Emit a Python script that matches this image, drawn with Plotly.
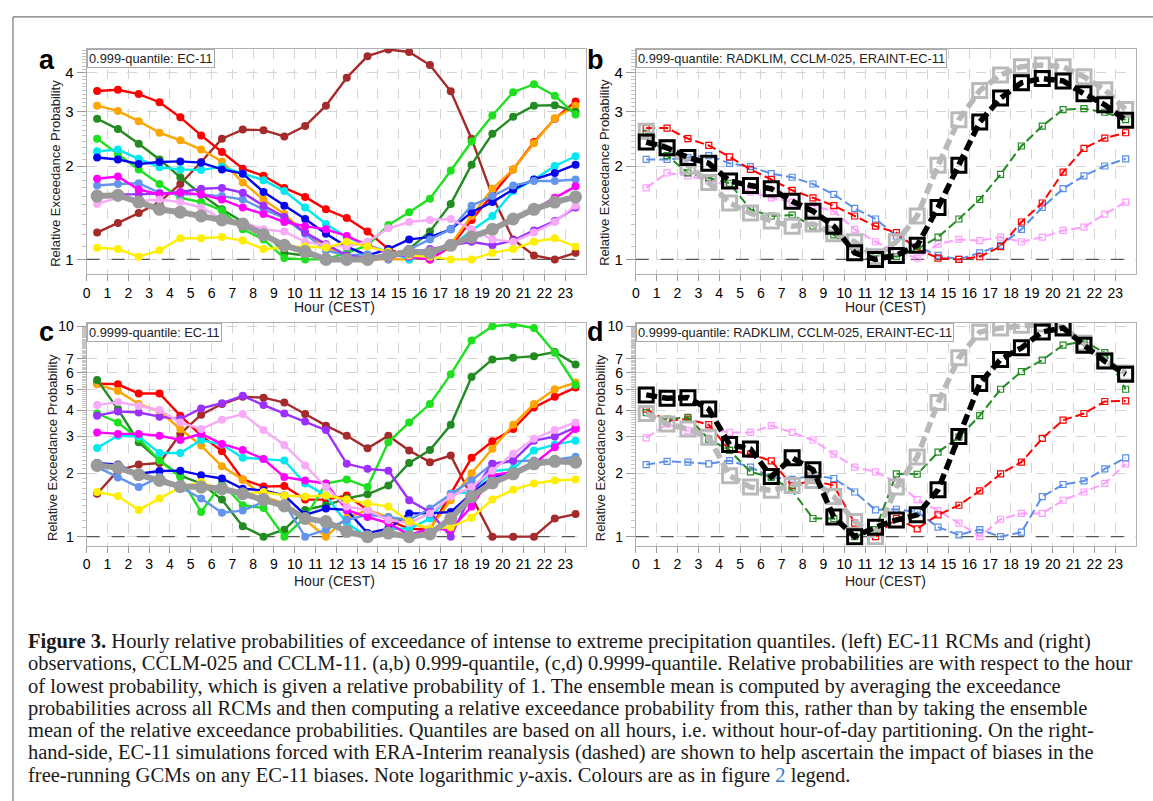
import plotly.graph_objects as go

HOURS = [0.5, 1.5, 2.5, 3.5, 4.5, 5.5, 6.5, 7.5, 8.5, 9.5, 10.5, 11.5,
         12.5, 13.5, 14.5, 15.5, 16.5, 17.5, 18.5, 19.5, 20.5, 21.5, 22.5, 23.5]
HOUR_TICKS = list(range(24))

# ---- panel a : 0.999-quantile, EC-11 RCMs ----
A_RED = [3.49, 3.52, 3.41, 3.21, 2.87, 2.51, 2.22, 1.96, 1.86, 1.70, 1.59, 1.45, 1.36, 1.23, 1.08, 1.02, 1.0, 1.10, 1.34, 1.62, 1.95, 2.39, 2.84, 3.23]
A_ORANGE = [3.13, 3.01, 2.79, 2.56, 2.42, 2.26, 2.07, 1.77, 1.56, 1.40, 1.22, 1.10, 1.03, 1.0, 1.0, 1.0, 1.02, 1.12, 1.38, 1.69, 1.95, 2.37, 2.85, 3.13]
A_DKGREEN = [2.84, 2.63, 2.36, 2.10, 1.84, 1.62, 1.45, 1.32, 1.24, 1.05, 1.03, 1.02, 1.0, 1.0, 1.03, 1.08, 1.23, 1.51, 2.02, 2.54, 2.88, 3.13, 3.14, 2.99]
A_GREEN = [2.45, 2.18, 1.95, 1.75, 1.58, 1.53, 1.44, 1.25, 1.16, 1.01, 1.0, 1.0, 1.05, 1.11, 1.29, 1.42, 1.57, 1.93, 2.40, 2.91, 3.46, 3.67, 3.37, 2.93]
A_CYAN = [2.23, 2.26, 2.11, 1.98, 1.95, 1.94, 1.99, 1.89, 1.80, 1.66, 1.47, 1.30, 1.18, 1.11, 1.06, 1.0, 1.03, 1.10, 1.24, 1.38, 1.66, 1.81, 2.0, 2.15]
A_BLUE = [2.13, 2.10, 2.03, 2.06, 2.07, 2.05, 1.95, 1.89, 1.65, 1.49, 1.35, 1.21, 1.10, 1.03, 1.08, 1.16, 1.18, 1.25, 1.42, 1.53, 1.68, 1.81, 1.90, 2.02]
A_CORNFLOWER = [1.73, 1.75, 1.76, 1.64, 1.62, 1.62, 1.60, 1.56, 1.45, 1.36, 1.21, 1.07, 1.03, 1.04, 1.0, 1.08, 1.16, 1.25, 1.49, 1.60, 1.73, 1.79, 1.79, 1.81]
A_MAGENTA = [1.82, 1.85, 1.68, 1.62, 1.64, 1.62, 1.56, 1.47, 1.40, 1.32, 1.28, 1.25, 1.19, 1.11, 1.05, 1.02, 1.0, 1.11, 1.16, 1.25, 1.33, 1.45, 1.58, 1.72]
A_PURPLE = [1.62, 1.62, 1.62, 1.63, 1.65, 1.69, 1.70, 1.64, 1.49, 1.37, 1.22, 1.12, 1.03, 1.01, 1.01, 1.05, 1.08, 1.11, 1.14, 1.11, 1.15, 1.24, 1.33, 1.47]
A_PINK = [1.51, 1.58, 1.54, 1.56, 1.53, 1.47, 1.35, 1.32, 1.25, 1.23, 1.14, 1.11, 1.10, 1.14, 1.26, 1.32, 1.34, 1.35, 1.25, 1.16, 1.14, 1.22, 1.32, 1.49]
A_BROWN = [1.22, 1.31, 1.41, 1.53, 1.75, 2.06, 2.45, 2.62, 2.61, 2.49, 2.69, 3.13, 3.85, 4.52, 4.75, 4.66, 4.23, 3.48, 2.45, 1.60, 1.16, 1.03, 1.0, 1.05]
A_YELLOW = [1.09, 1.08, 1.02, 1.07, 1.17, 1.17, 1.18, 1.15, 1.08, 1.09, 1.10, 1.09, 1.14, 1.10, 1.06, 1.03, 1.02, 1.0, 1.0, 1.05, 1.08, 1.14, 1.17, 1.10]
A_MEAN = [1.60, 1.61, 1.53, 1.45, 1.42, 1.38, 1.34, 1.30, 1.20, 1.11, 1.06, 1.0, 1.0, 1.0, 1.03, 1.06, 1.05, 1.11, 1.18, 1.25, 1.35, 1.45, 1.53, 1.59]

# ---- panel b : 0.999-quantile, observations / CCLM / ERAINT-EC-11 ----
B_BLACK = [2.39, 2.29, 2.13, 2.04, 1.79, 1.73, 1.69, 1.54, 1.43, 1.28, 1.05, 1.0, 1.03, 1.11, 1.47, 2.01, 2.77, 3.31, 3.71, 3.83, 3.76, 3.42, 3.15, 2.81]
B_GRAY = [2.59, 2.29, 2.0, 1.77, 1.52, 1.41, 1.33, 1.28, 1.30, 1.21, 1.14, 1.02, 1.14, 1.38, 2.01, 2.82, 3.50, 3.93, 4.18, 4.23, 4.18, 3.88, 3.52, 3.04]
B_RED = [2.65, 2.65, 2.45, 2.33, 2.14, 1.95, 1.81, 1.67, 1.58, 1.49, 1.38, 1.28, 1.22, 1.08, 1.01, 1.0, 1.02, 1.10, 1.32, 1.52, 1.91, 2.28, 2.46, 2.56]
B_CORNFLOWER = [2.10, 2.10, 2.13, 2.16, 2.04, 1.99, 1.89, 1.84, 1.75, 1.62, 1.46, 1.35, 1.19, 1.10, 1.03, 1.0, 1.05, 1.11, 1.25, 1.47, 1.69, 1.86, 2.0, 2.11]
B_GREEN = [2.55, 2.16, 1.90, 1.83, 1.76, 1.45, 1.38, 1.39, 1.28, 1.20, 1.08, 1.05, 1.02, 1.08, 1.18, 1.35, 1.56, 1.88, 2.32, 2.69, 3.04, 3.06, 2.98, 2.82]
B_PINK = [1.70, 1.90, 1.86, 1.79, 1.73, 1.65, 1.58, 1.53, 1.49, 1.43, 1.25, 1.14, 1.06, 1.01, 1.12, 1.16, 1.15, 1.18, 1.14, 1.18, 1.24, 1.27, 1.40, 1.53]

# ---- panel c : 0.9999-quantile, EC-11 RCMs ----
C_RED = [5.34, 5.30, 4.79, 4.79, 3.76, 3.02, 2.55, 1.87, 1.73, 1.74, 1.50, 1.50, 1.57, 1.34, 1.20, 1.09, 1.08, 1.60, 2.37, 2.84, 3.25, 4.11, 4.62, 5.11]
C_ORANGE = [5.30, 4.93, 4.27, 3.94, 3.25, 2.71, 2.16, 1.87, 1.55, 1.44, 1.20, 1.0, 1.23, 1.34, 1.24, 1.16, 1.09, 1.49, 2.0, 2.62, 3.40, 4.27, 5.02, 5.40]
C_DKGREEN = [5.56, 4.04, 2.81, 2.30, 1.95, 1.79, 1.50, 1.12, 1.0, 1.08, 1.34, 1.41, 1.52, 1.59, 1.75, 2.24, 2.58, 3.40, 5.74, 6.96, 7.08, 7.21, 7.54, 6.59]
C_GREEN = [3.85, 3.49, 2.92, 2.30, 1.92, 1.31, 1.79, 1.41, 1.37, 1.0, 1.23, 1.79, 1.87, 1.72, 2.81, 3.49, 4.27, 5.91, 8.55, 10.0, 10.2, 9.82, 7.49, 5.26]
C_CYAN = [2.64, 3.02, 2.99, 2.50, 2.50, 2.88, 2.74, 2.37, 2.34, 2.30, 1.79, 1.57, 1.16, 1.0, 1.09, 1.09, 1.22, 1.60, 1.63, 2.05, 2.10, 2.57, 2.74, 2.86]
C_BLUE = [2.24, 2.20, 1.99, 2.05, 2.06, 1.96, 1.89, 1.69, 1.66, 1.57, 1.27, 1.36, 1.34, 1.04, 1.09, 1.29, 1.29, 1.31, 1.60, 1.92, 2.03, 2.26, 2.28, 2.32]
C_CORNFLOWER = [2.14, 1.91, 1.72, 1.92, 1.72, 1.52, 1.30, 1.33, 1.46, 1.44, 1.0, 1.08, 1.20, 1.27, 1.24, 1.20, 1.36, 1.59, 1.85, 2.22, 2.28, 2.30, 2.32, 2.40]
C_MAGENTA = [3.13, 3.08, 3.08, 3.02, 2.88, 3.08, 2.76, 2.58, 2.34, 1.92, 1.85, 1.79, 1.34, 1.24, 1.16, 1.02, 1.09, 1.08, 1.39, 1.96, 2.03, 2.22, 2.66, 3.25]
C_PURPLE = [3.76, 3.94, 3.89, 3.72, 3.62, 4.07, 4.31, 4.67, 4.22, 3.85, 3.53, 3.21, 2.22, 2.10, 2.06, 1.49, 1.31, 1.0, 1.60, 2.22, 2.30, 2.86, 2.99, 3.31]
C_PINK = [4.22, 4.37, 4.18, 4.0, 3.49, 3.25, 3.60, 3.83, 3.21, 2.73, 2.18, 1.72, 1.39, 1.34, 1.20, 1.16, 1.29, 1.55, 1.72, 2.06, 2.48, 2.92, 3.21, 3.49]
C_BROWN = [1.60, 2.06, 2.20, 2.24, 3.08, 3.80, 4.27, 4.62, 4.58, 4.34, 3.83, 3.37, 3.02, 2.63, 3.02, 2.57, 2.26, 2.43, 1.55, 1.0, 1.0, 1.0, 1.22, 1.28]
C_YELLOW = [1.63, 1.56, 1.34, 1.52, 1.72, 1.82, 1.67, 1.60, 1.63, 1.57, 1.55, 1.57, 1.50, 1.44, 1.39, 1.18, 1.09, 1.11, 1.23, 1.50, 1.67, 1.79, 1.85, 1.87]
C_MEAN = [2.18, 2.13, 1.97, 1.85, 1.73, 1.72, 1.69, 1.60, 1.50, 1.40, 1.22, 1.18, 1.06, 1.0, 1.04, 1.0, 1.03, 1.22, 1.55, 1.80, 1.99, 2.22, 2.28, 2.26]

# ---- panel d : 0.9999-quantile, observations / CCLM / ERAINT-EC-11 ----
D_BLACK = [4.72, 4.55, 4.58, 4.04, 2.74, 2.61, 1.93, 2.37, 2.08, 1.24, 1.0, 1.11, 1.20, 1.27, 1.67, 2.99, 5.34, 6.96, 7.90, 9.40, 9.82, 8.13, 6.83, 5.91]
D_GRAY = [3.85, 3.43, 3.25, 2.97, 1.95, 1.72, 1.66, 1.75, 1.85, 1.55, 1.18, 1.0, 1.72, 2.39, 4.34, 7.08, 9.40, 9.82, 10.1, 10.25, 9.9, 8.3, 6.9, 6.0]
D_RED = [4.04, 3.56, 3.62, 3.41, 2.57, 2.47, 2.29, 1.75, 1.85, 1.75, 1.16, 1.0, 1.22, 1.09, 1.27, 1.41, 1.65, 1.99, 2.26, 2.93, 3.58, 3.85, 4.39, 4.42]
D_CORNFLOWER = [2.20, 2.28, 2.26, 2.22, 2.30, 2.14, 1.92, 1.87, 1.96, 1.89, 1.63, 1.34, 1.35, 1.31, 1.11, 1.02, 1.08, 1.0, 1.05, 1.55, 1.77, 1.84, 2.10, 2.37]
D_GREEN = [3.89, 3.62, 3.69, 2.91, 2.57, 2.03, 1.92, 1.66, 1.22, 1.22, 1.0, 1.08, 1.99, 1.98, 2.52, 2.97, 3.76, 5.02, 6.09, 6.91, 8.13, 8.49, 7.49, 5.02]
D_PINK = [2.95, 3.43, 3.19, 3.25, 3.13, 3.13, 3.37, 3.13, 2.88, 2.47, 2.14, 2.03, 1.82, 1.50, 1.33, 1.16, 1.0, 1.21, 1.29, 1.29, 1.49, 1.63, 1.79, 2.22]

Y_TICKS_AB = [1, 2, 3, 4]
Y_TICKS_CD = [1, 2, 3, 4, 5, 6, 7, 10]

PANEL_TITLES = ["0.999-quantile: EC-11",
                "0.999-quantile: RADKLIM, CCLM-025, ERAINT-EC-11",
                "0.9999-quantile: EC-11",
                "0.9999-quantile: RADKLIM, CCLM-025, ERAINT-EC-11"]
PANEL_LETTERS = ["a", "b", "c", "d"]

CAPTION = [
    "<b>Figure 3.</b> Hourly relative probabilities of exceedance of intense to extreme precipitation quantiles. (left) EC-11 RCMs and (right)",
    "observations, CCLM-025 and CCLM-11. (a,b) 0.999-quantile, (c,d) 0.9999-quantile. Relative probabilities are with respect to the hour",
    "of lowest probability, which is given a relative probability of 1. The ensemble mean is computed by averaging the exceedance",
    "probabilities across all RCMs and then computing a relative exceedance probability from this, rather than by taking the ensemble",
    "mean of the relative exceedance probabilities. Quantiles are based on all hours, i.e. without hour-of-day partitioning. On the right-",
    "hand-side, EC-11 simulations forced with ERA-Interim reanalysis (dashed) are shown to help ascertain the impact of biases in the",
    "free-running GCMs on any EC-11 biases. Note logarithmic <i>y</i>-axis. Colours are as in figure <span style='color:#2f7fc1'>2</span> legend.",
]

# ---------------------------------------------------------------
W, H = 1153, 801
SANS = "Liberation Sans, Arial, sans-serif"
SERIF = "Liberation Serif, Times New Roman, serif"

COL = dict(red="#ff0000", orange="#ffa500", dkgreen="#228b22", green="#1ee01e",
           cyan="#00e8f0", blue="#0505ee", cornflower="#6495ed", magenta="#ff00ff",
           purple="#9b30ff", pink="#f7aaf7", brown="#a52a2a", yellow="#ffee00",
           mean="#9a9a9a")
NAMES = ["brown", "red", "orange", "dkgreen", "green", "cyan", "blue",
         "cornflower", "purple", "magenta", "pink", "yellow"]


def px_x(a, b):
    return [a / W, b / W]


def px_y(top, bottom):
    return [1 - bottom / H, 1 - top / H]


# pixel geometry of the four plot areas
DOM = {
    1: (px_x(83, 584), px_y(44, 271)),
    2: (px_x(634, 1136), px_y(44, 271)),
    3: (px_x(83, 584), px_y(320, 544)),
    4: (px_x(634, 1136), px_y(320, 544)),
}
YRANGE = {1: [-0.048, 0.679], 2: [-0.048, 0.679], 3: [-0.0425, 1.0156], 4: [-0.0425, 1.0156]}


def ax(k):
    return ("x", "y") if k == 1 else (f"x{k}", f"y{k}")


fig = go.Figure()

# panels a & c : individual RCMs and the ensemble mean
for k, series, mean in ((1, [A_BROWN, A_RED, A_ORANGE, A_DKGREEN, A_GREEN, A_CYAN, A_BLUE,
                             A_CORNFLOWER, A_PURPLE, A_MAGENTA, A_PINK, A_YELLOW], A_MEAN),
                        (3, [C_BROWN, C_RED, C_ORANGE, C_DKGREEN, C_GREEN, C_CYAN, C_BLUE,
                             C_CORNFLOWER, C_PURPLE, C_MAGENTA, C_PINK, C_YELLOW], C_MEAN)):
    xa, ya = ax(k)
    for nm, ys in zip(NAMES, series):
        fig.add_trace(go.Scatter(x=HOURS, y=ys, mode="lines+markers",
                                 line=dict(color=COL[nm], width=2.4),
                                 marker=dict(symbol="circle", size=8, color=COL[nm]),
                                 xaxis=xa, yaxis=ya, showlegend=False, hoverinfo="skip"))
    fig.add_trace(go.Scatter(x=HOURS, y=mean, mode="lines+markers",
                             line=dict(color=COL["mean"], width=6),
                             marker=dict(symbol="circle", size=13, color=COL["mean"]),
                             xaxis=xa, yaxis=ya, showlegend=False, hoverinfo="skip"))

# panels b & d : observations, CCLM and ERAINT-driven runs
for k, (pink, corn, red, green, gray, black) in ((2, (B_PINK, B_CORNFLOWER, B_RED, B_GREEN, B_GRAY, B_BLACK)),
                                                 (4, (D_PINK, D_CORNFLOWER, D_RED, D_GREEN, D_GRAY, D_BLACK))):
    xa, ya = ax(k)
    for ys, c in ((pink, "#ff9cff"), (corn, "#5a8ee8"), (red, "#ff0000"), (green, "#228b22")):
        fig.add_trace(go.Scatter(x=HOURS, y=ys, mode="lines+markers",
                                 line=dict(color=c, width=2, dash="9px,4px"),
                                 marker=dict(symbol="square-open", size=6, color=c,
                                             line=dict(width=1.2, color=c)),
                                 xaxis=xa, yaxis=ya, showlegend=False, hoverinfo="skip"))
    for ys, c in ((gray, "#b9b9b9"), (black, "#000000")):
        fig.add_trace(go.Scatter(x=HOURS, y=ys, mode="lines+markers",
                                 line=dict(color=c, width=5.5, dash="11px,5px"),
                                 marker=dict(symbol="square-open", size=14, color=c,
                                             line=dict(width=3, color=c)),
                                 xaxis=xa, yaxis=ya, showlegend=False, hoverinfo="skip"))

layout = dict(width=W, height=H, margin=dict(l=0, r=0, t=0, b=0),
              paper_bgcolor="white", plot_bgcolor="white",
              font=dict(family=SANS, color="black"))

for k in (1, 2, 3, 4):
    sx = "" if k == 1 else str(k)
    xd, yd = DOM[k]
    yt = Y_TICKS_AB if k <= 2 else Y_TICKS_CD
    top = 4.8 if k <= 2 else 10.0
    minor_vals = [round(1 + 0.1 * i, 2) for i in range(1, int(round((top - 1) / 0.1)) + 1)]
    minor_vals = [v for v in minor_vals if v not in yt]
    layout["xaxis" + sx] = dict(domain=xd, range=[0, 24], anchor="y" + sx,
                                tickmode="array", tickvals=HOUR_TICKS,
                                ticks="outside", ticklen=6, tickcolor="#9a9a9a",
                                tickfont=dict(size=14, family=SANS),
                                showline=True, linecolor="#b0b0b0", mirror=True,
                                showgrid=True, gridcolor="#d4d4d4", griddash="10px,10px",
                                zeroline=False, fixedrange=True)
    layout["yaxis" + sx] = dict(domain=yd, type="log", range=YRANGE[k], anchor="x" + sx,
                                tickmode="array", tickvals=yt, ticktext=[str(v) for v in yt],
                                ticks="outside", ticklen=9, tickcolor="#9a9a9a",
                                tickfont=dict(size=15 if k <= 2 else 14, family=SANS),
                                minor=dict(tickmode="array", tickvals=minor_vals, ticks="outside",
                                           ticklen=4, tickcolor="#c4c4c4", showgrid=False),
                                showline=True, linecolor="#b0b0b0", mirror=True,
                                showgrid=True, gridcolor="#d4d4d4", griddash="10px,10px",
                                zeroline=False, fixedrange=True)

annotations = []
shapes = []
LETTER_POS = {1: (43, 55), 2: (594, 55), 3: (43, 329), 4: (594, 329)}
YT_POS = {1: (52, 169), 2: (603, 168), 3: (48, 445), 4: (598, 445)}
XT_POS = {1: (332, 304), 2: (885, 304), 3: (332, 580), 4: (885, 580)}
for k in (1, 2, 3, 4):
    sx = "" if k == 1 else str(k)
    lx, ly = LETTER_POS[k]
    annotations.append(dict(text=f"<b>{PANEL_LETTERS[k-1]}</b>", x=lx / W, y=1 - ly / H,
                            xref="paper", yref="paper", xanchor="center", yanchor="middle",
                            showarrow=False, font=dict(size=27, family=SANS, color="black")))
    annotations.append(dict(text=PANEL_TITLES[k-1], x=0, y=1, xref=f"x{sx} domain", yref=f"y{sx} domain",
                            xanchor="left", yanchor="top", showarrow=False,
                            bgcolor="white", bordercolor="#a8a8a8", borderwidth=1, borderpad=1,
                            font=dict(size=12.8, family=SANS, color="#222")))
    tx, ty = YT_POS[k]
    annotations.append(dict(text="Relative Exceedance Probability", x=tx / W, y=1 - ty / H,
                            xref="paper", yref="paper", xanchor="center", yanchor="middle",
                            showarrow=False, textangle=-90,
                            font=dict(size=13, family=SANS, color="#222")))
    hx, hy = XT_POS[k]
    annotations.append(dict(text="Hour (CEST)", x=hx / W, y=1 - hy / H,
                            xref="paper", yref="paper", xanchor="center", yanchor="middle",
                            showarrow=False, font=dict(size=14, family=SANS, color="#222")))
    # reference line at relative probability 1
    shapes.append(dict(type="line", xref=f"x{sx}", yref=f"y{sx}", x0=0, x1=24, y0=1, y1=1,
                       line=dict(color="#555555", width=1.2, dash="13px,12px"), layer="between"))

CAP_Y = [641, 663, 686, 708, 730, 752, 775]
for line, cy in zip(CAPTION, CAP_Y):
    annotations.append(dict(text=line, x=22 / W, y=1 - cy / H, xref="paper", yref="paper",
                            xanchor="left", yanchor="middle", showarrow=False,
                            font=dict(size=20.5, family=SERIF, color="#1a1a1a")))

# figure frame
shapes.append(dict(type="line", xref="paper", yref="paper", x0=9 / W, x1=1, y0=1 - 12 / H, y1=1 - 12 / H,
                   line=dict(color="#777777", width=1.2)))
shapes.append(dict(type="line", xref="paper", yref="paper", x0=9 / W, x1=9 / W, y0=0, y1=1 - 12 / H,
                   line=dict(color="#777777", width=1.2)))

layout["annotations"] = annotations
layout["shapes"] = shapes
fig.update_layout(**layout)
fig.write_html("out.html", config={"displayModeBar": False},
               post_script="document.body.style.margin='0px';")
